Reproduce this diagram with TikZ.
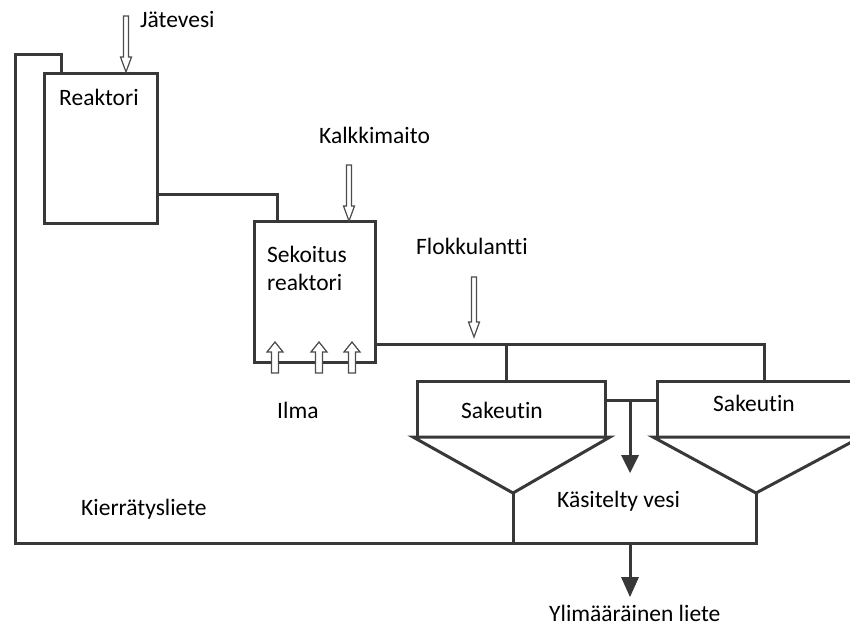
\documentclass[tikz,border=0pt]{standalone}
\usepackage{fontspec}
\setmainfont{Carlito}[RawFeature={-liga,-clig,-dlig}]
\usetikzlibrary{calc}
\begin{document}
\begin{tikzpicture}[x=1pt,y=-1pt,
  pipe/.style={draw=black!78,line width=3pt,line join=miter},
  tank/.style={draw=black!78,line width=3pt,fill=white,inner sep=0pt,outer sep=0pt,rectangle},
  lbl/.style={inner sep=0pt,anchor=base west,font=\fontsize{23.5}{28}\selectfont,text=black},
  feed/.style={draw=black!70,line width=1.2pt,fill=white,line join=miter},
  outhead/.style={fill=black!78,draw=none}]
\clip (0,0) rectangle (850,627);
\fill[white] (0,0) rectangle (850,627);

% tanks
\node[tank,minimum width=113pt,minimum height=150pt] (reactor) at (100.5,148) {};
\node[tank,minimum width=121pt,minimum height=141pt] (mix) at (314.5,291.5) {};
\node[tank,minimum width=188pt,minimum height=56pt] (sakA) at (511,409) {};
\node[tank,minimum width=200pt,minimum height=56pt] (sakB) at (757,409) {};

% settling cones
\coordinate (apexA) at (513,493);
\coordinate (apexB) at (756,493);
\draw[pipe,fill=white] ($(sakA.south west)+(-4,0)$) -- (apexA) -- ($(sakA.south east)+(5,0)$) -- cycle;
\draw[pipe,fill=white] ($(sakB.south west)+(-4,0)$) -- (apexB) -- ($(sakB.south east)+(4,0)$) -- cycle;

% junction points
\coordinate (recTop) at ($(reactor.north west)+(17,0)$);
\coordinate (split) at (506,344);
\coordinate (overflow) at (630,400);
\coordinate (drain) at (630,543);

% recycled sludge loop
\draw[pipe] (recTop) |- (15,54) |- (apexB |- drain) -- (apexB);
\draw[pipe] (apexA) -- (apexA |- drain);

% reactor to mixing reactor
\draw[pipe] ($(reactor.north east)+(0,121)$) -| ($(mix.north west)+(23,0)$);

% mixing reactor to settlers
\draw[pipe] (mix.east |- split) -| ($(sakB.north west)+(107,0)$);
\draw[pipe] (split) -- (split |- sakA.north);

% overflow between settlers
\draw[pipe] (sakA.east |- overflow) -- (sakB.west |- overflow);
\draw[pipe] (overflow) -- (630,458);
\fill[outhead] (621,455) -- (639,455) -- (630,473) -- cycle;

% excess sludge outlet
\draw[pipe] (drain) -- (630,580);
\fill[outhead] (621,577) -- (639,577) -- (630,597) -- cycle;

% hollow feed arrows
\draw[feed] (123.5,16) -- (128.5,16) -- (128.5,57) -- (131.5,57) -- (126,72) -- (120.5,57) -- (123.5,57) -- cycle;
\draw[feed] (346.5,165) -- (351.5,165) -- (351.5,206) -- (354.5,206) -- (349,221) -- (343.5,206) -- (346.5,206) -- cycle;
\draw[feed] (471.5,277) -- (476.5,277) -- (476.5,322) -- (479.5,322) -- (474,337) -- (468.5,322) -- (471.5,322) -- cycle;

% air inlets
\foreach \ax in {275,319,352}{
  \draw[feed] (\ax-3.5,373) -- (\ax+3.5,373) -- (\ax+3.5,352) -- (\ax+8,352) -- (\ax,342) -- (\ax-8,352) -- (\ax-3.5,352) -- cycle;
}

% labels
\node[lbl] (tJate) at (140,27) {Jätevesi};
\node[lbl] (tReak) at (59,105) {Reaktori};
\node[lbl] (tKalk) at (319,143) {Kalkkimaito};
\node[lbl] (tSek) at (267,262) {Sekoitus};
\node[lbl] (tSek2) at (267,290) {reaktori};
\node[lbl] (tFlok) at (416,254) {Flokkulantti};
\node[lbl] (tIlma) at (277,418) {Ilma};
\node[lbl] (tSakA) at (461,418) {Sakeutin};
\node[lbl] (tSakB) at (713,411) {Sakeutin};
\node[lbl] (tKas) at (557,507) {Käsitelty vesi};
\node[lbl] (tKier) at (81,515) {Kierrätysliete};
\node[lbl] (tYli) at (549,621) {Ylimääräinen liete};
\end{tikzpicture}
\end{document}
